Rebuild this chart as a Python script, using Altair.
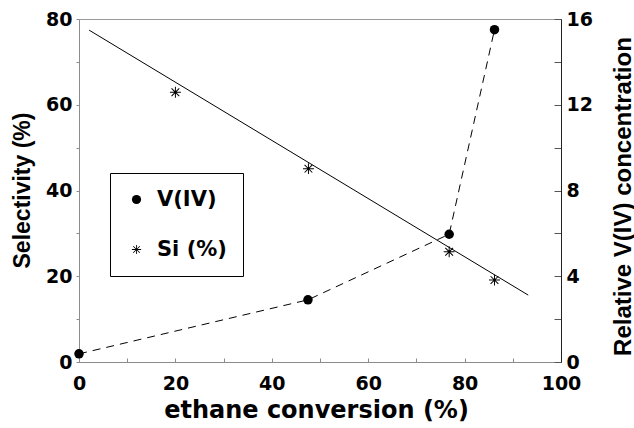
import altair as alt
import pandas as pd

# ethane conversion (%) and relative V(IV) concentration
conversion_v = [0.0, 47.5, 76.8, 86.2]
v_iv = [0.38, 2.9, 5.96, 15.5]

# ethane conversion (%) and selectivity Si (%)
conversion_si = [20.0, 47.6, 76.8, 86.2]
si_sel = [62.9, 45.1, 25.7, 19.1]

# straight trend line through the selectivity data
fit_x = [2.1, 93.2]
fit_y = [77.4, 15.6]

series_names = ["V(IV)", "Si (%)"]
x_ticks = list(range(0, 101, 10))
left_ticks = list(range(0, 81, 10))
right_ticks = list(range(0, 17, 2))

# eight-armed asterisk built from thin filled bars (same winding for every bar)
ASTERISK = (
    "M-0.09,-1L0.09,-1L0.09,1L-0.09,1Z"
    "M-1,-0.09L1,-0.09L1,0.09L-1,0.09Z"
    "M-0.64,-0.77L0.77,0.64L0.64,0.77L-0.77,-0.64Z"
    "M-0.77,0.64L0.64,-0.77L0.77,-0.64L-0.64,0.77Z"
)

df_v = pd.DataFrame({"conv": conversion_v, "val": v_iv, "series": series_names[0]})
df_si = pd.DataFrame({"conv": conversion_si, "val": si_sel, "series": series_names[1]})
df_fit = pd.DataFrame({"conv": fit_x, "val": fit_y})

x_scale = alt.Scale(domain=[0, 100], nice=False, zero=False)
x_axis = alt.Axis(
    values=x_ticks,
    labelExpr="datum.value % 20 === 0 ? datum.label : ''",
    labelFlush=False,
    tickSize={"expr": "-4"},
    labelPadding=16,
    domainColor="#8c8c8c",
    tickColor="#8c8c8c",
    title="ethane conversion (%)",
    titleFont="DejaVu Sans",
    titleFontSize=24,
    titleX=237,
    titleY=55,
    titleAlign="center",
    titleBaseline="alphabetic",
)
X = alt.X("conv:Q", scale=x_scale, axis=x_axis)

left_scale = alt.Scale(domain=[0, 80], nice=False, zero=False)
left_axis = alt.Axis(
    values=left_ticks,
    labelExpr="datum.value % 20 === 0 ? datum.label : ''",
    labelFlush=False,
    tickSize=3,
    labelPadding=4,
    domainColor="#8c8c8c",
    tickColor="#8c8c8c",
    title="Selectivity (%)",
    titleFontSize=23,
    titleAngle=270,
    titleX=-57,
    titleY=171,
    titleAlign="center",
    titleBaseline="middle",
)

right_scale = alt.Scale(domain=[0, 16], nice=False, zero=False)
right_axis = alt.Axis(
    orient="right",
    values=right_ticks,
    labelExpr="datum.value % 4 === 0 ? datum.label : ''",
    labelFlush=False,
    tickSize={"expr": "-7"},
    labelPadding=12,
    domainColor="#222222",
    tickColor="#555555",
    title="Relative V(IV) concentration",
    titleFontSize=24,
    titleAngle=270,
    titleX=62,
    titleY=177,
    titleAlign="center",
    titleBaseline="middle",
)

shape_scale = alt.Scale(domain=series_names, range=["circle", ASTERISK])
legend = alt.Legend(
    orient="none",
    legendX=31,
    legendY=154,
    title=None,
    strokeColor="black",
    fillColor="white",
    padding=16,
    rowPadding=28,
    symbolOffset=0,
    labelOffset=10,
    symbolSize=85,
    symbolFillColor="black",
    symbolStrokeWidth=0,
    labelFont="DejaVu Sans",
    labelFontWeight="bold",
    labelFontSize=21,
    labelColor="black",
)

fit_line = alt.Chart(df_fit).mark_line(color="black", strokeWidth=1).encode(
    x=X, y=alt.Y("val:Q", scale=left_scale, axis=left_axis)
)
si_points = alt.Chart(df_si).mark_point(
    filled=True, color="black", strokeWidth=0, size=120, opacity=1
).encode(
    x=X,
    y=alt.Y("val:Q", scale=left_scale, axis=left_axis),
    shape=alt.Shape("series:N", scale=shape_scale, legend=legend),
)

v_line = alt.Chart(df_v).mark_line(color="black", strokeWidth=1, strokeDash=[8, 6]).encode(
    x=X, y=alt.Y("val:Q", scale=right_scale, axis=right_axis)
)
v_points = alt.Chart(df_v).mark_point(
    filled=True, color="black", strokeWidth=0, size=90, opacity=1
).encode(
    x=X,
    y=alt.Y("val:Q", scale=right_scale, axis=right_axis),
    shape=alt.Shape("series:N", scale=shape_scale, legend=legend),
)

left = alt.layer(fit_line, si_points)
right = alt.layer(v_line, v_points)

chart = (
    alt.layer(left, right)
    .resolve_scale(y="independent")
    .properties(
        width=482,
        height=343,
        padding={"left": 79, "top": 19, "right": 73, "bottom": 66},
        autosize=alt.AutoSizeParams(type="none"),
        background="white",
    )
    .configure_view(stroke="#9a9a9a", strokeWidth=1)
    .configure_axis(
        grid=False,
        labelFont="DejaVu Sans",
        labelFontWeight="bold",
        labelFontSize=19,
        labelColor="black",
        titleFont="Liberation Sans",
        titleFontWeight="bold",
        titleColor="black",
        domainWidth=1,
        tickWidth=1,
    )
)

chart.save("out.html", embed_options={"renderer": "svg", "actions": False})
